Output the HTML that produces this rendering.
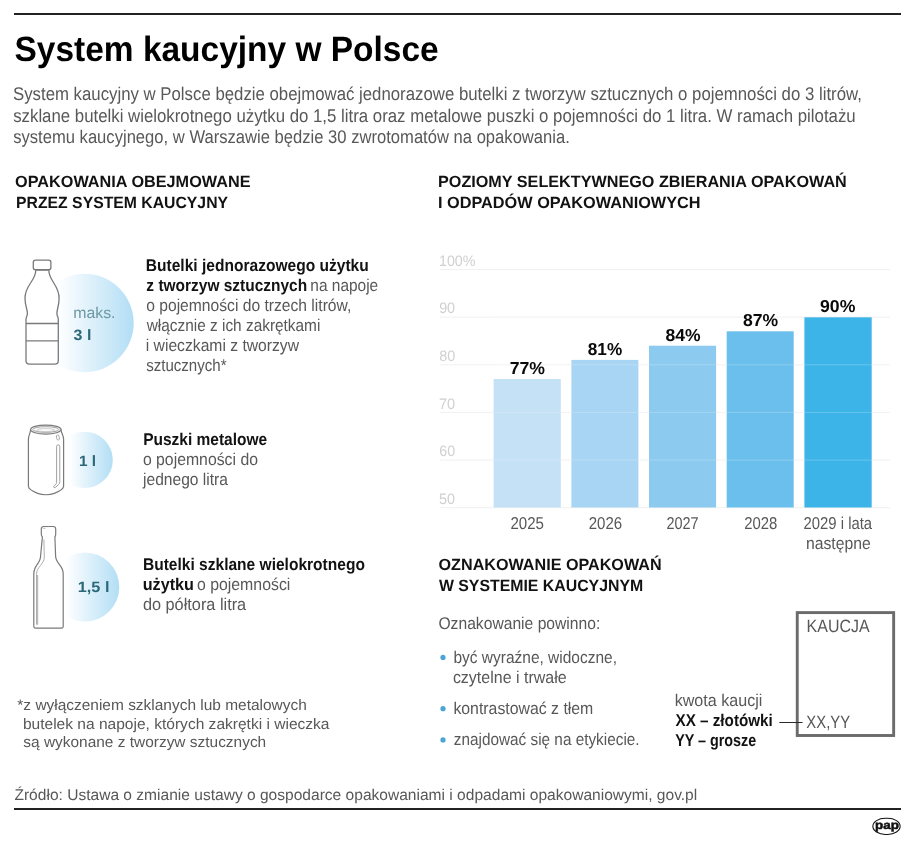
<!DOCTYPE html>
<html lang="pl"><head><meta charset="utf-8"><title>System kaucyjny w Polsce</title>
<style>
html,body{margin:0;padding:0;background:#fff}
svg{display:block;font-family:"Liberation Sans",sans-serif}
</style></head>
<body>
<svg width="915" height="843" viewBox="0 0 915 843" text-rendering="geometricPrecision">
<rect width="915" height="843" fill="#fff"/>

<defs>
<linearGradient id="g1" x1="0" x2="1" y1="0" y2="0"><stop offset="0.23" stop-color="#ffffff"/><stop offset="1" stop-color="#b2def5"/></linearGradient>
</defs>
<rect x="14" y="13" width="887" height="2" fill="#222"/>
<rect x="14" y="808" width="887" height="2" fill="#222"/>
<!-- circles -->
<circle cx="84.5" cy="323" r="49.2" fill="url(#g1)"/>
<circle cx="84.6" cy="459.9" r="28.2" fill="url(#g1)"/>
<circle cx="84.7" cy="587" r="34.6" fill="url(#g1)"/>
<!-- PET bottle -->
<g fill="#fff" stroke="#7a7a7a" stroke-width="1.3" stroke-linejoin="round">
<path d="M35.8 270 C35.8 281 25 285 25 298 C25 306 27.4 309 27.4 313.5 C27.4 316 26 317 26 319.5 L26 360.5 Q26 364.2 29.5 364.2 L54.8 364.2 Q58.3 364.2 58.3 360.5 L58.3 319.5 C58.3 317 56.9 316 56.9 313.5 C56.9 309 59.1 306 59.1 298 C59.1 285 48.8 281 48.8 270 Z"/>
<rect x="33.3" y="260.2" width="17.6" height="9.4" rx="2.2"/>
<path d="M26 323.5 H58.3 M26 340.8 H58.3" fill="none"/>
</g>
<!-- can -->
<g fill="#fff" stroke="#7a7a7a" stroke-width="1.2" stroke-linejoin="round">
<path d="M30.5 430 C30.5 433.5 28.4 435 28.4 439.5 L28.4 486.2 C28.4 488.8 33.3 491.6 37.7 493.4 C42.2 495.2 49.8 495.2 54.3 493.4 C58.7 491.6 63.6 488.8 63.6 486.2 L63.6 439.5 C63.6 435 61.1 433.5 61.1 430 Z"/>
<ellipse cx="45.8" cy="429.6" rx="15.3" ry="4.5" fill="#f1f1f1"/>
<ellipse cx="45.8" cy="429.5" rx="13" ry="2.8" stroke="#9a9a9a" stroke-width="0.9" fill="#fafafa"/>
<ellipse cx="45.8" cy="430.1" rx="9" ry="1.5" stroke="#c4c4c4" stroke-width="0.8" fill="none"/>
<ellipse cx="57.9" cy="437.5" rx="1.4" ry="2.7" transform="rotate(-12 57.9 437.5)" stroke="#a5a5a5" stroke-width="0.9"/>
<path d="M56.6 446.3 Q56.6 444.9 58.2 444.9 Q59.8 444.9 59.8 446.3 L59.8 481.5 Q59.8 483.5 58.5 484.6 L55.2 487.6 Q54 488.2 53.7 487.1 Q53.5 486.2 54.5 485.5 L56 484.2 Q56.6 483.7 56.6 482.7 Z" stroke="#a0a0a0" stroke-width="1"/>
</g>
<!-- glass bottle -->
<g fill="#fff" stroke="#7a7a7a" stroke-width="1.2" stroke-linejoin="round">
<path d="M43.8 526.5 L53.2 526.5 Q55.7 526.5 55.7 529 L55.7 534.3 Q55.7 536 54.9 536.9 L55.6 556 C55.6 563.5 63.2 565.5 63.2 573.5 L63.2 626.5 Q63.2 628.2 61.4 628.2 L35.6 628.2 Q33.8 628.2 33.8 626.5 L33.8 573.5 C33.8 565.5 40.6 563.5 40.6 556 L42.4 536.9 Q41.3 536 41.3 534.3 L41.3 529 Q41.3 526.5 43.8 526.5 Z"/>
<path d="M43.9 539.5 L44.3 557 C44.3 564.5 36.5 566.5 36.5 574.5 L36.5 624.3 Q37.1 625.3 37.7 624.3 L37.7 575" fill="none" stroke="#a4a4a4" stroke-width="0.9"/>
<path d="M43 528.3 H45.5" fill="none" stroke="#b0b0b0" stroke-width="0.8"/>
</g>
<!-- chart -->
<rect x="440" y="269.0" width="450" height="1" fill="#f1f1f1"/><rect x="440" y="316.6" width="450" height="1" fill="#f1f1f1"/><rect x="440" y="364.3" width="450" height="1" fill="#f1f1f1"/><rect x="440" y="411.9" width="450" height="1" fill="#f1f1f1"/><rect x="440" y="459.6" width="450" height="1" fill="#f1f1f1"/><rect x="440" y="507.2" width="450" height="1" fill="#f1f1f1"/>
<rect x="493.6" y="379.0" width="67.2" height="128.5" fill="#c5e1f6"/><rect x="571.4" y="359.9" width="67.0" height="147.6" fill="#a8d5f3"/><rect x="649.0" y="345.7" width="67.1" height="161.8" fill="#8ccaef"/><rect x="726.7" y="331.3" width="67.0" height="176.2" fill="#6bbfec"/><rect x="804.4" y="317.2" width="67.3" height="190.3" fill="#3cb4e8"/>
<rect x="493" y="316.6" width="379" height="1" fill="#ffffff" fill-opacity="0.22"/><rect x="493" y="364.3" width="379" height="1" fill="#ffffff" fill-opacity="0.22"/><rect x="493" y="411.9" width="379" height="1" fill="#ffffff" fill-opacity="0.22"/><rect x="493" y="459.6" width="379" height="1" fill="#ffffff" fill-opacity="0.22"/>
<!-- bullets -->
<circle cx="443" cy="657.4" r="2.6" fill="#4aa5d4"/>
<circle cx="443" cy="708.7" r="2.6" fill="#4aa5d4"/>
<circle cx="443" cy="739.9" r="2.6" fill="#4aa5d4"/>
<!-- kaucja box -->
<rect x="797.25" y="612.6" width="96.4" height="122.9" fill="none" stroke="#6b6b6b" stroke-width="2.9"/>
<rect x="779.3" y="722" width="23.3" height="1" fill="#2a2a2a"/>
<!-- pap -->
<rect x="872.85" y="818.25" width="27.3" height="16.2" rx="12.5" ry="8.1" fill="#fff" stroke="#111" stroke-width="1.1"/>

<text x="14.52" y="61" font-size="35.1" font-weight="bold" fill="#000" textLength="424.18" lengthAdjust="spacingAndGlyphs">System kaucyjny w Polsce</text>
<text x="12.99" y="100" font-size="18.4" fill="#585858" textLength="848.87" lengthAdjust="spacingAndGlyphs">System kaucyjny w Polsce będzie obejmować jednorazowe butelki z tworzyw sztucznych o pojemności do 3 litrów,</text>
<text x="13.18" y="122" font-size="18.4" fill="#585858" textLength="842.51" lengthAdjust="spacingAndGlyphs">szklane butelki wielokrotnego użytku do 1,5 litra oraz metalowe puszki o pojemności do 1 litra. W ramach pilotażu</text>
<text x="13.18" y="143" font-size="18.4" fill="#585858" textLength="556.68" lengthAdjust="spacingAndGlyphs">systemu kaucyjnego, w Warszawie będzie 30 zwrotomatów na opakowania.</text>
<text x="15.06" y="187" font-size="16.3" font-weight="bold" fill="#121212" textLength="235.44" lengthAdjust="spacingAndGlyphs">OPAKOWANIA OBEJMOWANE</text>
<text x="16.07" y="208" font-size="16.3" font-weight="bold" fill="#121212" textLength="211.98" lengthAdjust="spacingAndGlyphs">PRZEZ SYSTEM KAUCYJNY</text>
<text x="438.01" y="187" font-size="16.3" font-weight="bold" fill="#121212" textLength="408.8" lengthAdjust="spacingAndGlyphs">POZIOMY SELEKTYWNEGO ZBIERANIA OPAKOWAŃ</text>
<text x="437.99" y="208" font-size="16.3" font-weight="bold" fill="#121212" textLength="262.62" lengthAdjust="spacingAndGlyphs">I ODPADÓW OPAKOWANIOWYCH</text>
<text x="438.56" y="570" font-size="16.3" font-weight="bold" fill="#121212" textLength="223.05" lengthAdjust="spacingAndGlyphs">OZNAKOWANIE OPAKOWAŃ</text>
<text x="438.9" y="591" font-size="16.3" font-weight="bold" fill="#121212" textLength="204.34" lengthAdjust="spacingAndGlyphs">W SYSTEMIE KAUCYJNYM</text>
<text x="145.8" y="271" font-size="17.0" font-weight="bold" fill="#121212" textLength="222.97" lengthAdjust="spacingAndGlyphs">Butelki jednorazowego użytku</text>
<text x="146.37" y="291" font-size="17.0" font-weight="bold" fill="#121212" textLength="160.77" lengthAdjust="spacingAndGlyphs">z tworzyw sztucznych</text>
<text x="310.3" y="291" font-size="17.0" fill="#585858" textLength="67.92" lengthAdjust="spacingAndGlyphs">na napoje</text>
<text x="146.21" y="311" font-size="17.0" fill="#585858" textLength="205.15" lengthAdjust="spacingAndGlyphs">o pojemności do trzech litrów,</text>
<text x="146.68" y="331" font-size="17.0" fill="#585858" textLength="173.69" lengthAdjust="spacingAndGlyphs">włącznie z ich zakrętkami</text>
<text x="145.78" y="351" font-size="17.0" fill="#585858" textLength="153.27" lengthAdjust="spacingAndGlyphs">i wieczkami z tworzyw</text>
<text x="146.14" y="371" font-size="17.0" fill="#585858" textLength="80.42" lengthAdjust="spacingAndGlyphs">sztucznych*</text>
<text x="143.15" y="445" font-size="17.0" font-weight="bold" fill="#121212" textLength="124.07" lengthAdjust="spacingAndGlyphs">Puszki metalowe</text>
<text x="142.9" y="465" font-size="17.0" fill="#585858" textLength="115.12" lengthAdjust="spacingAndGlyphs">o pojemności do</text>
<text x="143.02" y="485" font-size="17.0" fill="#585858" textLength="84.91" lengthAdjust="spacingAndGlyphs">jednego litra</text>
<text x="142.95" y="570" font-size="17.0" font-weight="bold" fill="#121212" textLength="221.97" lengthAdjust="spacingAndGlyphs">Butelki szklane wielokrotnego</text>
<text x="142.69" y="590" font-size="17.0" font-weight="bold" fill="#121212" textLength="51.21" lengthAdjust="spacingAndGlyphs">użytku</text>
<text x="196.93" y="590" font-size="17.0" fill="#585858" textLength="93.42" lengthAdjust="spacingAndGlyphs">o pojemności</text>
<text x="142.88" y="610" font-size="17.0" fill="#585858" textLength="103.31" lengthAdjust="spacingAndGlyphs">do półtora litra</text>
<text x="17.35" y="710" font-size="15.2" fill="#585858" textLength="289.46" lengthAdjust="spacingAndGlyphs">*z wyłączeniem szklanych lub metalowych</text>
<text x="22.91" y="729" font-size="15.2" fill="#585858" textLength="306.6" lengthAdjust="spacingAndGlyphs">butelek na napoje, których zakrętki i wieczka</text>
<text x="23.33" y="747" font-size="15.2" fill="#585858" textLength="242.87" lengthAdjust="spacingAndGlyphs">są wykonane z tworzyw sztucznych</text>
<text x="14.45" y="800" font-size="15.6" fill="#585858" textLength="682.79" lengthAdjust="spacingAndGlyphs">Źródło: Ustawa o zmianie ustawy o gospodarce opakowaniami i odpadami opakowaniowymi, gov.pl</text>
<text x="439.02" y="266" font-size="15.2" fill="#d0d0d0" textLength="36.33" lengthAdjust="spacingAndGlyphs">100%</text>
<text x="439.13" y="313" font-size="15.2" fill="#d0d0d0" textLength="15.91" lengthAdjust="spacingAndGlyphs">90</text>
<text x="439.17" y="361" font-size="15.2" fill="#d0d0d0" textLength="16.04" lengthAdjust="spacingAndGlyphs">80</text>
<text x="438.89" y="409" font-size="15.2" fill="#d0d0d0" textLength="16.17" lengthAdjust="spacingAndGlyphs">70</text>
<text x="439.36" y="456" font-size="15.2" fill="#d0d0d0" textLength="15.83" lengthAdjust="spacingAndGlyphs">60</text>
<text x="439.04" y="504" font-size="15.2" fill="#d0d0d0" textLength="16.0" lengthAdjust="spacingAndGlyphs">50</text>
<text x="509.68" y="374" font-size="17.3" font-weight="bold" fill="#0a0a0a" textLength="35.35" lengthAdjust="spacingAndGlyphs">77%</text>
<text x="587.81" y="355" font-size="17.3" font-weight="bold" fill="#0a0a0a" textLength="34.4" lengthAdjust="spacingAndGlyphs">81%</text>
<text x="665.44" y="341" font-size="17.3" font-weight="bold" fill="#0a0a0a" textLength="35.06" lengthAdjust="spacingAndGlyphs">84%</text>
<text x="743.0" y="326" font-size="17.3" font-weight="bold" fill="#0a0a0a" textLength="35.17" lengthAdjust="spacingAndGlyphs">87%</text>
<text x="819.98" y="312" font-size="17.3" font-weight="bold" fill="#0a0a0a" textLength="35.41" lengthAdjust="spacingAndGlyphs">90%</text>
<text x="510.42" y="529" font-size="17.2" fill="#585858" textLength="33.56" lengthAdjust="spacingAndGlyphs">2025</text>
<text x="588.69" y="529" font-size="17.2" fill="#585858" textLength="33.42" lengthAdjust="spacingAndGlyphs">2026</text>
<text x="666.47" y="529" font-size="17.2" fill="#585858" textLength="32.21" lengthAdjust="spacingAndGlyphs">2027</text>
<text x="744.19" y="529" font-size="17.2" fill="#585858" textLength="33.11" lengthAdjust="spacingAndGlyphs">2028</text>
<text x="803.54" y="529" font-size="17.2" fill="#585858" textLength="68.58" lengthAdjust="spacingAndGlyphs">2029 i lata</text>
<text x="805.96" y="549" font-size="17.2" fill="#585858" textLength="64.76" lengthAdjust="spacingAndGlyphs">następne</text>
<text x="438.45" y="629" font-size="17.0" fill="#585858" textLength="161.87" lengthAdjust="spacingAndGlyphs">Oznakowanie powinno:</text>
<text x="453.4" y="663" font-size="17.0" fill="#585858" textLength="163.64" lengthAdjust="spacingAndGlyphs">być wyraźne, widoczne,</text>
<text x="452.89" y="683" font-size="17.0" fill="#585858" textLength="113.73" lengthAdjust="spacingAndGlyphs">czytelne i trwałe</text>
<text x="453.39" y="714" font-size="17.0" fill="#585858" textLength="139.93" lengthAdjust="spacingAndGlyphs">kontrastować z tłem</text>
<text x="453.82" y="745" font-size="17.0" fill="#585858" textLength="185.77" lengthAdjust="spacingAndGlyphs">znajdować się na etykiecie.</text>
<text x="674.71" y="706" font-size="17.0" fill="#585858" textLength="87.68" lengthAdjust="spacingAndGlyphs">kwota kaucji</text>
<text x="675.53" y="726" font-size="17.0" font-weight="bold" fill="#121212" textLength="97.27" lengthAdjust="spacingAndGlyphs">XX – złotówki</text>
<text x="675.15" y="746" font-size="17.0" font-weight="bold" fill="#121212" textLength="81.13" lengthAdjust="spacingAndGlyphs">YY – grosze</text>
<text x="806.61" y="632" font-size="17.8" fill="#585858" textLength="62.99" lengthAdjust="spacingAndGlyphs">KAUCJA</text>
<text x="806.36" y="728" font-size="17.8" fill="#585858" textLength="43.72" lengthAdjust="spacingAndGlyphs">XX,YY</text>
<text x="73.21" y="318" font-size="15.6" fill="#6d98a4" textLength="42.29" lengthAdjust="spacingAndGlyphs">maks.</text>
<text x="73.55" y="340" font-size="15" font-weight="bold" fill="#2c6878" textLength="17.81" lengthAdjust="spacingAndGlyphs">3 l</text>
<text x="79.03" y="466" font-size="15" font-weight="bold" fill="#2c6878" textLength="17.13" lengthAdjust="spacingAndGlyphs">1 l</text>
<text x="77.76" y="592" font-size="15" font-weight="bold" fill="#2c6878" textLength="31.65" lengthAdjust="spacingAndGlyphs">1,5 l</text>
<text x="874.98" y="829" font-size="11.8" font-weight="bold" stroke="#111" stroke-width="0.5" fill="#111" textLength="23.91" lengthAdjust="spacingAndGlyphs">pap</text>
</svg>
</body></html>
